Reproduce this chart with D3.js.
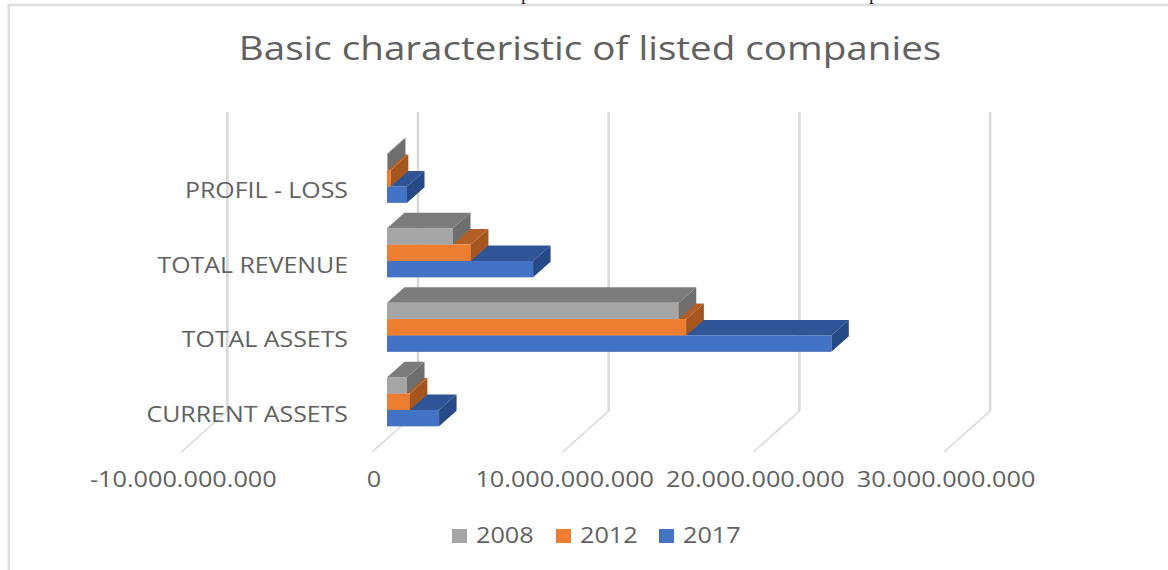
<!DOCTYPE html>
<html>
<head>
<meta charset="utf-8">
<script src="https://d3js.org/d3.v7.min.js"></script>
<style>
html,body{margin:0;padding:0;background:#fff;}
svg{display:block;}
text{font-family:"Open Sans","Noto Sans",sans-serif;fill:#616161;}
</style>
</head>
<body>
<svg id="chart" width="1168" height="570"></svg>
<script>
// Chart values, in currency units
const categories = ["PROFIL - LOSS", "TOTAL REVENUE", "TOTAL ASSETS", "CURRENT ASSETS"];
const seriesNames = ["2008", "2012", "2017"];
const values2008 = [50000000, 3460000000, 15300000000, 1050000000];
const values2012 = [200000000, 4400000000, 15700000000, 1200000000];
const values2017 = [1050000000, 7660000000, 23300000000, 2730000000];
const axisTicks = [-10000000000, 0, 10000000000, 20000000000, 30000000000];
const tickLabels = ["-10.000.000.000", "0", "10.000.000.000", "20.000.000.000", "30.000.000.000"];
const seriesValues = [values2008, values2012, values2017];

const faceColors = {"2008": "#a5a5a5", "2012": "#ed7d31", "2017": "#4472c4"};
const topColors = {"2008": "#7c7c7c", "2012": "#b35e25", "2017": "#2f5597"};
const sideColors = {"2008": "#6f6f6f", "2012": "#a5561f", "2017": "#264a85"};

const svg = d3.select("#chart");

// Type is set wide, so every label shares one horizontal stretch
const stretch = 1.18;

// Oblique depth of the bars and of the floor in front of the back wall
const depthX = 17.5, depthY = -15.5;
const wallDX = 31, wallTop = 112, wallBottom = 411, floorDX = 46, floorDY = 41;

// Scale for the front plane of the bars
const x = d3.scaleLinear().domain([0, 10000000000]).range([387, 577.7]);
const y = d3.scaleBand().domain(categories).range([141, 439]).padding(0);
const inner = d3.scaleBand().domain(seriesNames)
  .range([y.bandwidth() / 2 - 24.6, y.bandwidth() / 2 + 24.6]);

// Frame of the chart area, cropped at the top and right
svg.append("path").attr("d", "M8.75,570V5H1168")
  .attr("fill", "none").attr("stroke", "#dedede").attr("stroke-width", 2.5);

// Clipped line of the text above the frame: only two descenders remain
svg.selectAll("text.cut").data([526, 874]).join("text").attr("class", "cut")
  .attr("x", d => d).attr("y", -1).attr("text-anchor", "middle")
  .style("font-family", "'Liberation Serif',serif").style("font-size", "20px").style("fill", "#222")
  .text("p");

// Wide label helper: anchors the text at (px, py) and stretches it horizontally
function wide(sel, px, py) {
  return sel.attr("transform", (d, i) => `translate(${px(d, i)},${py(d, i)}) scale(${stretch},1)`);
}

// Title
svg.append("text").datum("title").call(wide, () => 590, () => 60)
  .attr("text-anchor", "middle").style("font-size", "32.7px")
  .text("Basic characteristic of listed companies");

// Back wall and floor gridlines
const grid = svg.append("g").attr("fill", "none").attr("stroke", "#d9d9d9");
grid.selectAll("path.wall").data(axisTicks).join("path").attr("class", "wall")
  .attr("stroke-width", 2.6)
  .attr("d", d => `M${x(d) + wallDX},${wallTop}V${wallBottom}`);
grid.selectAll("path.floor").data(axisTicks).join("path").attr("class", "floor")
  .attr("stroke-width", 1.6)
  .attr("d", d => `M${x(d) + wallDX},${wallBottom}l${-floorDX},${floorDY}`);

// Category labels, drawn over the gridlines
svg.selectAll("text.cat").data(categories).join("text").attr("class", "cat")
  .call(wide, () => 348, d => y(d) + y.bandwidth() / 2 + 20)
  .attr("text-anchor", "end").style("font-size", "21.1px").text(d => d);

// Bars: each category is painted 2017 first, so the upper series' faces stay whole
const bars = svg.append("g");
categories.forEach((cat, ci) => {
  seriesNames.slice().reverse().forEach(name => {
    const si = seriesNames.indexOf(name);
    const v = seriesValues[si][ci];
    const x0 = x(0), x1 = x(v);
    const y0 = y(cat) + inner(name), h = inner.bandwidth();
    const g = bars.append("g");
    g.append("path").attr("fill", topColors[name])
      .attr("d", `M${x0},${y0}l${depthX},${depthY}H${x1 + depthX}L${x1},${y0}Z`);
    g.append("path").attr("fill", sideColors[name])
      .attr("d", `M${x1},${y0}l${depthX},${depthY}v${h}l${-depthX},${-depthY}Z`);
    g.append("rect").attr("x", x0).attr("y", y0)
      .attr("width", Math.max(0, x1 - x0)).attr("height", h).attr("fill", faceColors[name]);
  });
});

// Value axis labels
svg.selectAll("text.tick").data(axisTicks).join("text").attr("class", "tick")
  .call(wide, d => x(d) - 13, () => 487)
  .attr("text-anchor", "middle").style("font-size", "21.4px")
  .text((d, i) => tickLabels[i]);

// Legend
const legendX = [452, 556, 659];
const legend = svg.selectAll("g.leg").data(seriesNames).join("g").attr("class", "leg")
  .attr("transform", (d, i) => `translate(${legendX[i]},529)`);
legend.append("rect").attr("width", 15).attr("height", 14).attr("fill", d => faceColors[d]);
legend.append("text").call(wide, () => 24, () => 14)
  .style("font-size", "21.4px").text(d => d);
</script>
</body>
</html>
